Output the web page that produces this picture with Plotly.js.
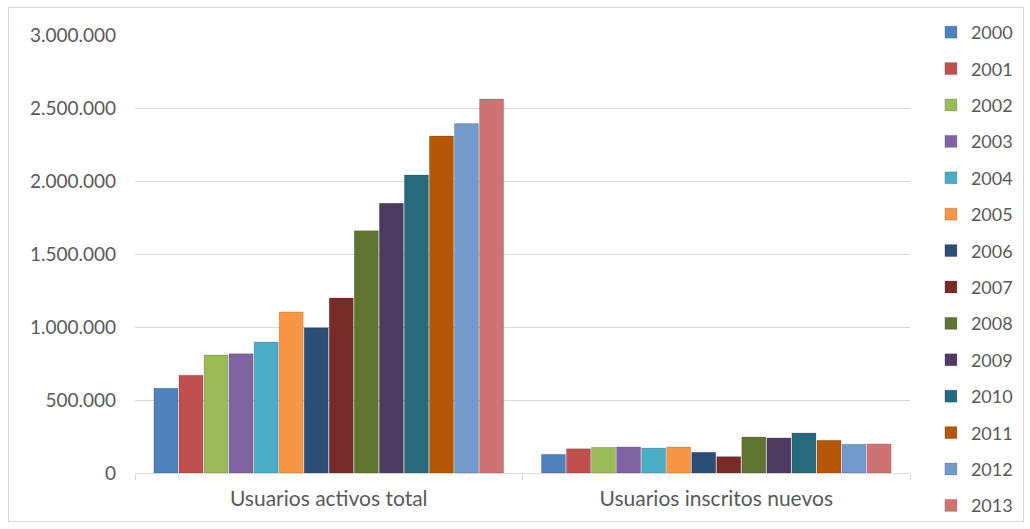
<!DOCTYPE html>
<html>
<head>
<meta charset="utf-8">
<script src="https://cdn.plot.ly/plotly-3.0.1.min.js"></script>
<style>
html,body{margin:0;padding:0;background:#fff;}
#frame{position:absolute;left:8px;top:7px;width:1014px;height:513px;border:1px solid #d9d9d9;}
#chart{width:1014px;height:513px;}
</style>
</head>
<body>
<div id="frame"><div id="chart"></div></div>
<script>
const categories = ["Usuarios activos total", "Usuarios inscritos nuevos"];
const years = ["2000","2001","2002","2003","2004","2005","2006","2007","2008","2009","2010","2011","2012","2013"];
const activosTotal = [580000, 670000, 808000, 817000, 897000, 1103000, 995000, 1199000, 1660000, 1847000, 2041000, 2308000, 2393000, 2562000];
const inscritosNuevos = [128000, 166000, 176000, 178000, 171000, 178000, 142000, 112000, 247000, 240000, 274000, 224000, 197000, 199000];
const colors = ["#4F81BD","#C0504D","#9BBB59","#8064A2","#4BACC6","#F79646","#2C4D75","#772C2A","#5F7530","#4D3B62","#276A7C","#B65708","#729ACA","#CD7371"];
const yTicks = [0, 500000, 1000000, 1500000, 2000000, 2500000, 3000000];

const traces = years.map((yr, i) => ({
  type: 'bar',
  name: yr,
  x: categories,
  y: [activosTotal[i], inscritosNuevos[i]],
  legendgroup: 'g' + i,
  marker: {color: colors[i], line: {color: 'rgba(0,0,0,0.25)', width: 0.6}},
  hoverinfo: 'name+y'
}));

const fam = 'Lato, "Open Sans", sans-serif';
const grey = '#595959';

const layout = {
  width: 1014, height: 513,
  margin: {l: 126, r: 113, t: 27, b: 48, autoexpand: false},
  separators: ',.',
  paper_bgcolor: '#fff', plot_bgcolor: '#fff',
  font: {family: fam, size: 18, color: grey},
  barmode: 'group',
  bargap: 0.095,
  bargroupgap: 0.04,
  showlegend: true,
  legend: {
    x: 1.027, xanchor: 'left', y: 1.048, yanchor: 'top',
    font: {family: fam, size: 18, color: grey},
    tracegroupgap: 10,
    traceorder: 'grouped',
    itemwidth: 30,
    maxheight: 2000
  },
  xaxis: {
    type: 'category',
    showline: true, linecolor: '#d9d9d9', linewidth: 1,
    ticks: 'outside', tickson: 'boundaries', ticklen: 6, tickcolor: '#d9d9d9',
    tickfont: {family: fam, size: 21, color: grey},
    ticklabelstandoff: 7,
    showgrid: false, zeroline: false
  },
  yaxis: {
    range: [0, 3000000],
    tickvals: yTicks,
    tickformat: ',d',
    showgrid: true, gridcolor: '#d9d9d9', gridwidth: 1,
    zeroline: false, showline: false,
    tickfont: {family: fam, size: 19, color: grey}, ticks: '', ticklabelstandoff: 18
  }
};

Plotly.newPlot('chart', traces, layout, {displayModeBar: false, staticPlot: true});
</script>
</body>
</html>
